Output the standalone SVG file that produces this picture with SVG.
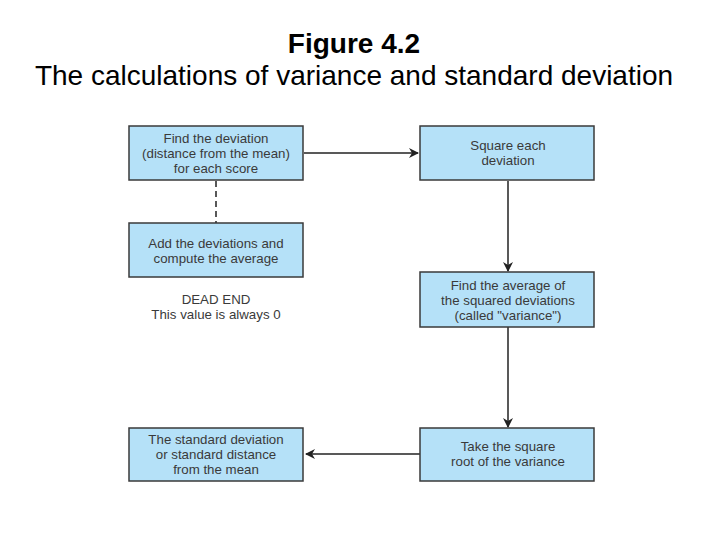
<svg xmlns="http://www.w3.org/2000/svg" width="720" height="540" viewBox="0 0 720 540">
<style>
.title{font-family:"Liberation Sans",Arial,sans-serif;font-size:28px;fill:#000;text-anchor:middle}
.box{fill:#b5e1f8;stroke:#3a3a3a;stroke-width:1.5}
.t{font-family:"Liberation Sans",Arial,sans-serif;font-size:13.3px;fill:#3a3a3a;text-anchor:middle}
.c{stroke:#222;stroke-width:1.5;fill:none}
</style>
<defs>
<marker id="ah" viewBox="0 0 10 10" refX="9" refY="5" markerWidth="10" markerHeight="10" markerUnits="userSpaceOnUse" orient="auto">
<path d="M0,0 L10,5 L0,10 L3,5 Z" fill="#222"/>
</marker>
</defs>
<rect width="720" height="540" fill="#fff"/>
<text class="title" x="354" y="53" font-weight="bold">Figure 4.2</text>
<text class="title" x="354" y="85">The calculations of variance and standard deviation</text>

<g id="connectors">
<line class="c" x1="304" y1="153" x2="418" y2="153" marker-end="url(#ah)"/>
<line class="c" x1="508" y1="181" x2="508" y2="271" marker-end="url(#ah)"/>
<line class="c" x1="508" y1="327" x2="508" y2="427" marker-end="url(#ah)"/>
<line class="c" x1="420" y1="454" x2="306" y2="454" marker-end="url(#ah)"/>
<line class="c" x1="216" y1="181" x2="216" y2="223" stroke-dasharray="6,4"/>
</g>

<g id="n1">
<rect class="box" x="129" y="126" width="174" height="54"/>
<text class="t" x="216" y="143">Find the deviation</text>
<text class="t" x="216" y="158">(distance from the mean)</text>
<text class="t" x="216" y="173">for each score</text>
</g>
<g id="n2">
<rect class="box" x="129" y="223" width="174" height="54"/>
<text class="t" x="216" y="248">Add the deviations and</text>
<text class="t" x="216" y="263">compute the average</text>
</g>
<g id="n2note">
<text class="t" x="216" y="304">DEAD END</text>
<text class="t" x="216" y="319">This value is always 0</text>
</g>
<g id="n3">
<rect class="box" x="420" y="126" width="174" height="54"/>
<text class="t" x="508" y="150">Square each</text>
<text class="t" x="508" y="165">deviation</text>
</g>
<g id="n4">
<rect class="box" x="420" y="272" width="174" height="55"/>
<text class="t" x="508" y="290">Find the average of</text>
<text class="t" x="508" y="305">the squared deviations</text>
<text class="t" x="508" y="320">(called "variance")</text>
</g>
<g id="n5">
<rect class="box" x="420" y="428" width="174" height="53"/>
<text class="t" x="508" y="451">Take the square</text>
<text class="t" x="508" y="466">root of the variance</text>
</g>
<g id="n6">
<rect class="box" x="129" y="428" width="174" height="53"/>
<text class="t" x="216" y="444">The standard deviation</text>
<text class="t" x="216" y="459">or standard distance</text>
<text class="t" x="216" y="474">from the mean</text>
</g>
</svg>
